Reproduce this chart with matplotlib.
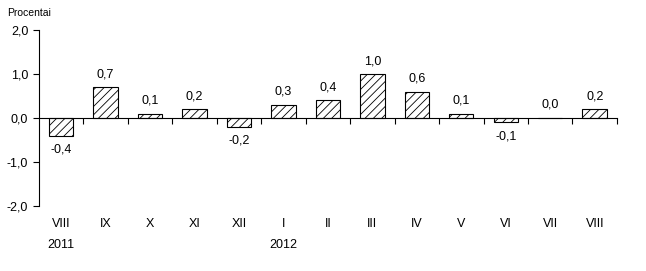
import matplotlib.pyplot as plt
import numpy as np

plt.rcParams['font.family'] = ['Liberation Sans', 'DejaVu Sans']
plt.rcParams['hatch.linewidth'] = 0.6

months = ["VIII", "IX", "X", "XI", "XII", "I", "II", "III", "IV", "V", "VI", "VII", "VIII"]
values = [-0.4, 0.7, 0.1, 0.2, -0.2, 0.3, 0.4, 1.0, 0.6, 0.1, -0.1, 0.0, 0.2]
years = {0: "2011", 5: "2012"}

def fmt(v):
    return f"{v:.1f}".replace(".", ",")

fig = plt.figure(figsize=(6.46, 2.71), dpi=100)
ax = fig.add_axes([0.060, 0.240, 0.895, 0.649])

x = np.arange(len(values))
ax.bar(x, values, width=0.55, color="white", edgecolor="black", linewidth=0.8, hatch="////")

# value labels above positive bars, below negative ones
for xi, v in zip(x, values):
    if v < 0:
        ax.text(xi, v - 0.18, fmt(v), ha="center", va="top", fontsize=9)
    else:
        ax.text(xi, v + 0.16, fmt(v), ha="center", va="bottom", fontsize=9)

ax.set_xlim(-0.5, len(values) - 0.5)
ax.set_ylim(-2.0, 2.0)
ax.set_yticks([-2, -1, 0, 1, 2])
ax.set_yticklabels([fmt(t) for t in [-2, -1, 0, 1, 2]], fontsize=9)
ax.tick_params(axis="y", direction="out", length=4, width=0.8)

ax.spines["top"].set_visible(False)
ax.spines["right"].set_visible(False)
ax.spines["bottom"].set_position(("data", 0))
ax.spines["left"].set_linewidth(0.8)
ax.spines["bottom"].set_linewidth(0.8)

ax.set_xticks(np.arange(0.5, len(values), 1.0))
ax.set_xticklabels([])
ax.tick_params(axis="x", direction="out", length=4, width=0.8)

for xi, m in zip(x, months):
    ax.text(xi, -0.103, m, transform=ax.get_xaxis_transform(), ha="center", va="center", fontsize=9)
for xi, yr in years.items():
    ax.text(xi, -0.22, yr, transform=ax.get_xaxis_transform(), ha="center", va="center", fontsize=9)

fig.text(0.011, 0.952, "Procentai", ha="left", va="center", fontsize=7.5)

fig.savefig("out.png", dpi=100)
